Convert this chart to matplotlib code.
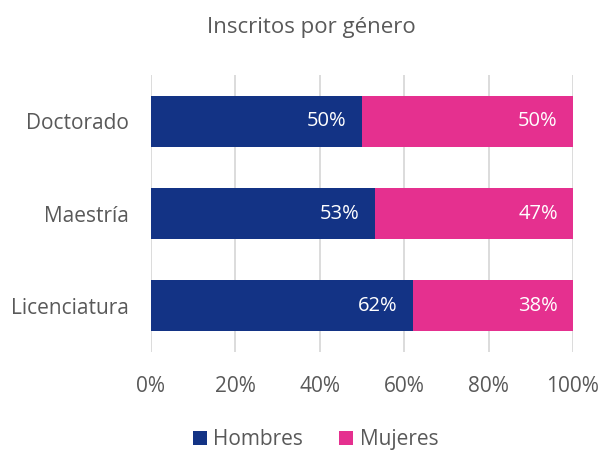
import matplotlib
matplotlib.use("Agg")
import matplotlib.pyplot as plt
from matplotlib.ticker import PercentFormatter

categories = ["Licenciatura", "Maestría", "Doctorado"]
hombres = [62, 53, 50]
mujeres = [38, 47, 50]
labels = ["Hombres", "Mujeres"]
xticks = [0, 20, 40, 60, 80, 100]

c_h = "#133385"
c_m = "#e5308f"
txt = "#595959"

plt.rcParams["font.family"] = ["Open Sans", "DejaVu Sans"]

fig = plt.figure(figsize=(6.02, 4.51), dpi=100)
ax = fig.add_axes([0.2508, 0.2195, 0.701, 0.6142])

y = range(len(categories))
b1 = ax.barh(y, hombres, height=0.55, color=c_h, label=labels[0], zorder=3)
b2 = ax.barh(y, mujeres, left=hombres, height=0.55, color=c_m, label=labels[1], zorder=3)

for i in y:
    ax.text(hombres[i] - 3.6, i, str(hombres[i]) + "%", color="white", fontsize=14.5,
            ha="right", va="center", zorder=4)
    ax.text(100 - 3.6, i, str(mujeres[i]) + "%", color="white", fontsize=14.5,
            ha="right", va="center", zorder=4)

ax.set_xlim(0, 100)
ax.set_ylim(-0.5, 2.5)
ax.set_xticks(xticks)
ax.xaxis.set_major_formatter(PercentFormatter(decimals=0))
ax.set_yticks(list(y))
ax.set_yticklabels(categories)
ax.tick_params(axis="both", length=0, labelsize=15, colors=txt)
ax.tick_params(axis="x", pad=17)
ax.tick_params(axis="y", pad=16)
ax.grid(axis="x", color="#d9d9d9", linewidth=1.3, zorder=0)
for s in ax.spines.values():
    s.set_visible(False)

fig.text(0.517, 0.94, "Inscritos por género", ha="center", va="center", fontsize=16, color=txt)
fig.legend(handles=[b1, b2], labels=labels, loc="center", bbox_to_anchor=(0.524, 0.025),
           ncol=2, frameon=False, fontsize=15, handlelength=0.7, handleheight=0.7,
           handletextpad=0.3, columnspacing=1.7, labelcolor=txt)

fig.savefig("out.png", dpi=100)
